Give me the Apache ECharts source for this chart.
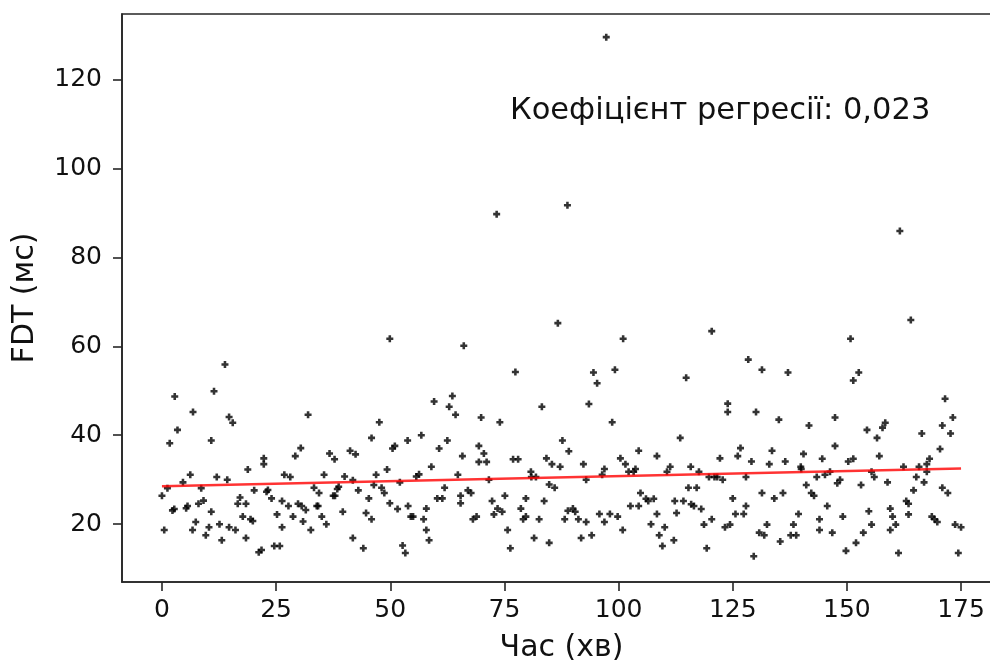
<!DOCTYPE html>
<html>
<head>
<meta charset="utf-8">
<script src="https://cdn.jsdelivr.net/npm/echarts@6/dist/echarts.min.js"></script>
<style>
html,body{margin:0;padding:0;background:#fff;}
#chart{width:990px;height:667px;}
</style>
</head>
<body>
<div id="chart"></div>
<script>
// Time (minutes) of each sample
const timeMin = [
13.8,2.8,11.4,6.8,14.7,15.5,3.4,1.7,10.8,18.8,6.2,12.0,14.3,4.6,1.2,8.6,20.2,0.0,17.1,16.6,18.4,9.1,8.0,5.3,5.6,2.3,2.7,10.8,17.7,19.4,19.9,7.4,12.6,10.3,14.7,16.1,0.5,6.7,9.6,18.4,13.1,
32.0,30.4,29.2,22.3,22.3,36.7,37.8,41.2,42.4,26.8,28.1,35.5,40.0,41.8,23.2,22.9,33.3,34.4,38.7,38.4,37.5,37.9,43.0,24.0,26.3,27.7,29.8,30.6,31.5,33.9,34.2,39.6,25.2,28.7,35.0,30.9,36.0,26.3,32.6,41.8,24.6,25.8,21.2,21.8,44.1,
49.9,66.1,59.6,63.6,62.9,64.3,47.6,45.9,53.8,56.8,51.0,50.5,60.7,62.5,65.8,49.3,46.9,59.0,64.8,56.3,55.7,52.1,46.4,48.1,48.7,61.9,45.3,60.3,61.4,65.4,65.4,49.9,53.9,51.6,57.9,44.7,45.9,54.5,55.0,57.3,57.9,58.5,52.7,53.3,
86.7,77.4,83.2,69.9,74.0,87.7,89.1,69.4,70.5,69.4,71.1,76.9,78.0,84.2,85.4,87.2,80.8,80.9,81.9,71.6,84.8,86.0,67.0,67.7,75.1,79.7,83.7,72.3,73.5,74.5,72.7,78.6,79.7,79.1,82.6,88.9,88.2,68.1,68.9,75.7,81.5,84.8,76.3,
101.0,94.5,95.3,99.2,93.5,98.6,104.4,108.4,92.3,100.4,101.5,96.9,96.4,102.2,103.3,103.7,111.3,110.6,92.9,104.8,106.0,106.5,107.7,112.3,102.6,104.4,90.0,90.5,95.8,98.1,99.8,108.4,112.7,91.2,92.9,96.9,107.1,110.1,100.9,108.9,94.1,91.8,109.6,112.1,
120.4,114.8,128.4,131.4,123.9,123.9,130.1,135.1,113.5,126.7,126.1,133.6,122.2,129.1,133.0,115.8,117.6,119.8,121.0,121.6,122.8,127.9,115.3,117.1,131.4,134.1,114.2,125.0,116.5,115.9,118.1,127.9,125.6,127.4,120.4,118.7,123.3,124.4,132.5,130.8,131.9,135.4,119.3,129.6,
150.8,137.1,152.6,151.4,147.4,141.7,154.4,157.8,158.4,156.6,147.4,140.5,136.5,144.6,150.3,151.4,157.1,139.9,140.0,146.3,145.2,143.4,155.4,156.0,148.5,147.9,141.1,153.1,136.0,142.2,142.8,145.7,139.4,149.1,154.8,144.0,138.3,155.4,144.0,146.8,153.6,137.7,138.9,152.0,149.8,
164.0,171.5,173.2,170.9,172.7,166.4,170.4,168.1,167.5,162.4,165.8,167.5,165.2,158.9,166.9,170.9,172.1,164.6,163.0,163.5,163.5,159.5,160.0,160.7,159.5,168.6,169.2,169.8,173.7,175.0,161.3,174.4,
97.3,73.3,88.8,161.6
];
// FDT (ms) of each sample
const fdtMs = [
55.9,48.7,49.9,45.2,44.1,42.8,41.2,38.2,38.8,32.3,31.1,30.6,30.0,29.4,28.1,28.1,27.6,26.4,26.0,24.6,24.6,25.3,24.6,23.6,24.1,23.1,23.4,22.8,21.7,21.1,20.7,20.5,20.0,19.3,19.3,18.7,18.7,18.7,17.5,16.9,16.4,
44.6,37.1,35.3,34.8,33.5,35.9,34.6,36.5,35.7,31.1,30.6,31.1,30.7,29.9,27.7,27.3,28.2,27.0,28.4,27.9,26.4,26.4,27.6,25.8,25.2,24.1,24.6,24.1,23.2,24.1,24.1,22.8,22.2,21.7,21.7,20.6,20.0,19.3,18.7,16.9,15.1,15.1,13.7,14.2,14.6,
61.7,60.1,47.6,48.8,46.4,44.6,42.9,39.4,38.8,40.0,37.6,37.0,37.0,38.8,35.3,32.3,31.1,32.9,31.1,31.2,30.7,29.4,28.8,28.2,27.0,28.2,25.8,25.8,25.8,26.4,24.7,24.7,24.1,23.4,23.5,22.5,21.1,21.7,21.7,21.1,18.7,16.4,15.2,13.5,
65.2,54.2,46.4,44.0,42.9,38.8,36.4,37.6,35.9,34.0,34.0,34.6,34.6,34.8,33.5,32.9,31.8,30.6,30.6,30.0,28.9,28.2,27.6,27.0,26.4,25.8,25.2,25.2,23.5,22.8,22.2,23.5,21.7,21.1,21.1,23.0,21.1,21.1,21.7,18.7,16.9,15.8,14.6,
61.7,54.1,51.7,54.7,47.0,42.9,36.5,35.3,33.5,34.8,33.5,32.4,31.1,31.8,31.8,32.4,32.9,31.8,30.0,27.0,25.7,25.2,25.7,25.2,24.1,24.1,23.5,22.8,22.3,22.3,21.7,22.3,22.5,21.1,20.5,20.5,20.0,19.3,18.7,17.5,17.5,16.9,15.1,16.4,
63.4,52.9,57.0,54.7,47.1,45.2,45.2,43.5,39.4,37.1,35.3,36.5,34.8,34.1,33.5,32.9,31.8,30.6,30.6,30.6,30.0,30.6,28.2,28.2,27.0,25.8,25.2,25.8,24.1,24.5,23.4,24.1,22.3,22.3,21.1,19.9,19.3,19.9,19.9,18.1,17.5,16.1,14.6,12.8,
61.7,54.1,54.1,52.3,44.0,42.2,41.2,41.7,42.8,39.4,37.6,35.8,34.1,34.7,34.1,34.7,35.3,32.9,32.4,31.8,31.1,30.6,31.8,30.6,30.0,29.2,28.8,28.8,27.0,27.0,26.4,24.1,22.3,21.7,22.9,21.1,19.9,19.9,18.7,18.1,18.1,17.5,17.5,15.8,14.0,
65.9,48.2,44.0,42.2,40.4,40.4,36.9,34.7,33.5,32.9,32.9,31.8,30.6,29.4,29.4,28.2,27.0,27.6,25.2,24.6,22.2,23.5,21.7,19.9,18.7,21.7,21.1,20.5,19.9,19.3,13.5,13.5,
129.5,89.7,91.7,85.9
];
// Fitted regression line end points
const regTime = [0, 175];
const regFdt = [28.5, 32.5];
// Axis ticks
const xTicks = [0, 25, 50, 75, 100, 125, 150, 175];
const yTicks = [20, 40, 60, 80, 100, 120];
const annotation = 'Коефіцієнт регресії: 0,023';

const points = timeMin.map((t, i) => [t, fdtMs[i]]);
const regLine = regTime.map((t, i) => [t, regFdt[i]]);

const chart = echarts.init(document.getElementById('chart'), null, {renderer: 'canvas'});
const FONT = "'DejaVu Sans', sans-serif";
const textColor = '#111111';
const axisColor = '#262626';
const plus = 'path://M1.9,0L4.1,0L4.1,1.9L6,1.9L6,4.1L4.1,4.1L4.1,6L1.9,6L1.9,4.1L0,4.1L0,1.9L1.9,1.9Z';

chart.setOption({
  animation: false,
  backgroundColor: '#ffffff',
  grid: {left: 122, top: 14, width: 879, height: 568, outerBoundsMode: 'none', containLabel: false,
         show: true, borderColor: axisColor, borderWidth: 1.6, backgroundColor: 'transparent'},
  xAxis: {
    type: 'value', min: -8.75, max: 183.75,
    name: 'Час (хв)', nameLocation: 'middle', nameGap: 51,
    nameTextStyle: {fontFamily: FONT, fontSize: 30, color: textColor},
    axisLine: {show: true, onZero: false, lineStyle: {color: axisColor, width: 1.6}},
    axisTick: {show: true, length: 9, customValues: xTicks, lineStyle: {color: axisColor, width: 1.6}},
    axisLabel: {customValues: xTicks, fontFamily: FONT, fontSize: 25, color: textColor, margin: 16},
    splitLine: {show: false}
  },
  yAxis: {
    type: 'value', min: 7.0, max: 134.7,
    name: 'FDT (мс)', nameLocation: 'middle', nameGap: 82, nameRotate: 90,
    nameTextStyle: {fontFamily: FONT, fontSize: 30, color: textColor},
    axisLine: {show: true, onZero: false, lineStyle: {color: axisColor, width: 1.6}},
    axisTick: {show: true, length: 9, customValues: yTicks, lineStyle: {color: axisColor, width: 1.6}},
    axisLabel: {customValues: yTicks, fontFamily: FONT, fontSize: 25, color: textColor, margin: 20},
    splitLine: {show: false}
  },
  series: [
    {
      type: 'scatter', data: points, symbol: plus, symbolSize: 7,
      itemStyle: {color: '#000000'}, z: 2
    },
    {
      type: 'line', data: regLine, symbol: 'none', z: 3,
      lineStyle: {color: 'rgba(255,0,0,0.8)', width: 2.5}
    }
  ],
  graphic: [{
    type: 'text', left: 510, top: 96,
    style: {text: annotation, font: "30.5px 'DejaVu Sans', sans-serif", fill: textColor}
  }]
});
</script>
</body>
</html>
